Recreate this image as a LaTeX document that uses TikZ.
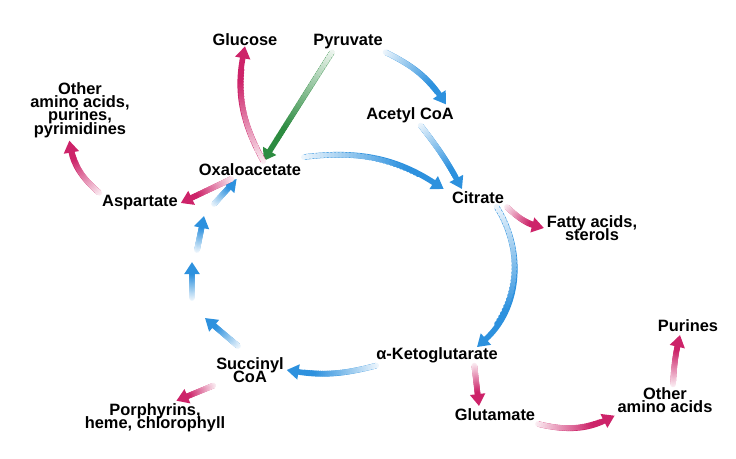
\documentclass[tikz,border=0pt]{standalone}
\usepackage{fontspec}
\setmainfont{Liberation Sans}
\usetikzlibrary{positioning,arrows.meta,decorations.markings}
\definecolor{CycBlue}{RGB}{45,145,222}
\definecolor{OutMag}{RGB}{205,35,105}
\definecolor{InGreen}{RGB}{45,140,65}

\begin{document}
\begin{tikzpicture}[x=0.75pt,y=-0.75pt,
    lbl/.style={font=\bfseries\fontsize{12.3}{13}\selectfont,align=center,inner sep=2pt},
    fade/.style={line width=4.2pt,draw=#1,-{Triangle[length=9pt,width=11pt]},
      postaction={decorate,decoration={markings,
        mark=between positions 0 and 0.8 step 0.025 with {%
          \pgfmathsetmacro\q{min(100,6+\pgfkeysvalueof{/pgf/decoration/mark info/sequence number}*3.2)}%
          \fill[color=#1!\q!white] circle (2.15pt);}}}}
  ]
  \useasboundingbox (0,0) rectangle (736,458);
  % metabolites
  \node[lbl] (glc) at (245,40) {Glucose};
  \node[lbl] (pyr) at (348,42) {Pyruvate};
  \node[lbl] (oaa2) at (80,110) {Other\\[-3pt]amino acids,\\[-3pt]purines,\\[-3pt]pyrimidines};
  \node[lbl] (acoa) at (410,115) {Acetyl CoA};
  \node[lbl] (oaa) at (250,170) {Oxaloacetate};
  \node[lbl] (cit) at (478,198) {Citrate};
  \node[lbl] (asp) at (140,203) {Aspartate};
  \node[lbl] (fat) at (592,228) {Fatty acids,\\[-3pt]sterols};
  \node[lbl] (suc) at (250,370) {Succinyl\\[-3pt]CoA};
  \node[lbl] (akg) at (437,355) {α-Ketoglutarate};
  \node[lbl] (pur) at (688,326) {Purines};
  \node[lbl] (oam) at (665,400) {Other\\[-3pt]amino acids};
  \node[lbl] (por) at (155,418) {Porphyrins,\\[-3pt]heme, chlorophyll};
  \node[lbl] (glu) at (495,415) {Glutamate};
  % waypoints of the left side of the cycle
  \coordinate (w0) at (238,346);
  \coordinate (w1) at (205,318);
  \coordinate (w2) at (192,298);
  \coordinate (w3) at (192,262);
  \coordinate (w4) at (197,250);
  \coordinate (w5) at (204,216);
  \coordinate (w6) at (214,204);
  % cycle
  \draw[fade=CycBlue] (pyr.south east) to[bend left=15] ([xshift=-8pt]acoa.north east);
  \draw[fade=CycBlue] ([xshift=8pt]acoa.south) to[bend left=5] ([xshift=-12pt]cit.north);
  \draw[fade=InGreen] ([xshift=-12pt]pyr.south) -- ([xshift=10pt]oaa.north);
  \draw[fade=CycBlue] ([yshift=3pt]oaa.north east) to[bend left=20] ([xshift=-4pt]cit.north west);
  \draw[fade=CycBlue] ([xshift=14pt]cit.south) to[bend left=40] ([xshift=30pt,yshift=-2pt]akg.north);
  \draw[fade=CycBlue] ([xshift=2pt]akg.south west) to[bend left=12] (suc.east);
  \draw[fade=CycBlue] (w0) -- (w1);
  \draw[fade=CycBlue] (w2) -- (w3);
  \draw[fade=CycBlue] (w4) -- (w5);
  \draw[fade=CycBlue] (w6) -- ([xshift=-10pt]oaa.south);
  % outflow
  \draw[fade=OutMag] ([xshift=10pt]oaa.north) to[bend left=20] ([yshift=2pt]glc.south);
  \draw[fade=OutMag] ([xshift=-14pt]oaa.south) -- (asp.east);
  \draw[fade=OutMag] (asp.north west) to[bend left=20] ([xshift=-8pt]oaa2.south);
  \draw[fade=OutMag] (cit.south east) to[bend right=15] (fat.west);
  \draw[fade=OutMag] (suc.south west) -- ([xshift=16pt]por.north);
  \draw[fade=OutMag] ([xshift=28pt]akg.south) -- ([xshift=-12pt]glu.north);
  \draw[fade=OutMag] (glu.south east) to[bend right=20] (oam.south west);
  \draw[fade=OutMag] ([xshift=6pt]oam.north) to[bend left=5] ([xshift=-6pt]pur.south);
\end{tikzpicture}
\end{document}
